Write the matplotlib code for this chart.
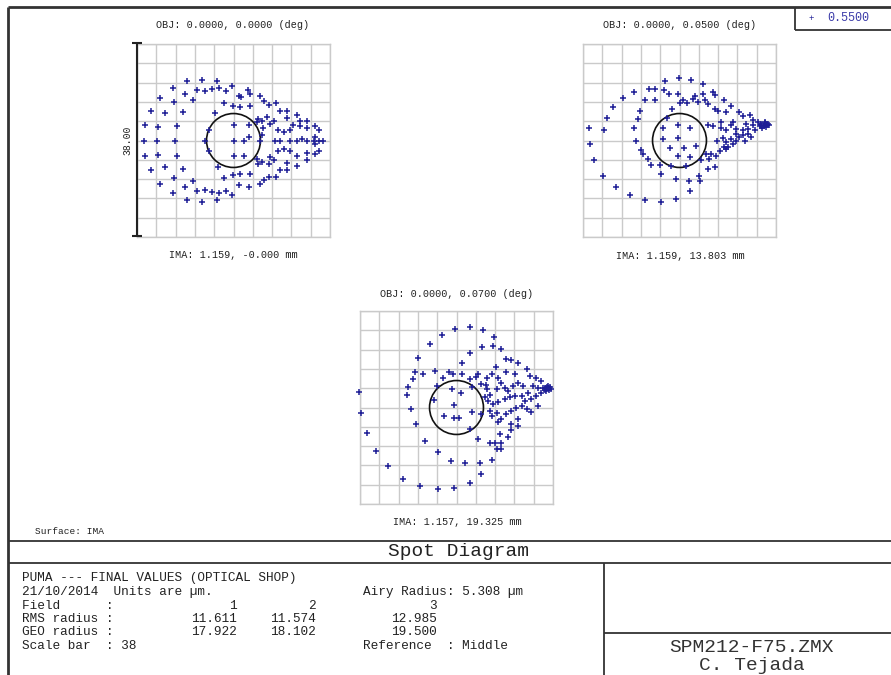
import matplotlib
matplotlib.use("Agg")
import matplotlib.pyplot as plt
from matplotlib.lines import Line2D
from matplotlib.patches import Circle

# ---------------- data (µm, relative to spot centroid) ----------------
SCALE_BAR = 38.0
AIRY_RADIUS = 5.308
WAVELENGTH = "0.5500"

FIELD1_X = [-9.2, -6.2, -3.3, -12.0, -7.2, -5.7, -4.2, -2.8, -1.5, -0.3, 1.0, 1.4, 2.8, 3.3,
            -9.5, -14.5, -11.8, -7.9, -1.8, -0.1, 1.3, 3.3, 5.3, 6.0, 6.9, 8.4,
            -16.3, -13.5, -9.9, -3.6, 4.9, 5.6, 6.6, 7.9, 9.2, 10.5, 10.6, 12.5, 13.1, 14.5,
            -17.4, -14.8, -11.2, -4.9, 0.0, 3.0, 4.6, 5.9, 7.2, 8.7, 9.9, 11.2, 11.8, 13.0, 14.5, 16.1, 16.8,
            -17.7, -15.1, -11.5, -5.6, 0.0, 2.0, 3.0, 5.3, 5.6, 8.2, 9.2, 11.2, 12.5, 13.5, 14.5, 15.8, 16.8, 17.7, 16.1, 16.1,
            -17.4, -14.8, -11.2, -4.9, 0.0, 2.0, 4.6, 5.6, 7.2, 8.7, 9.9, 11.2, 12.5, 14.5, 16.1, 16.8,
            -16.3, -13.5, -9.9, -3.0, 4.9, 6.9, 7.9, 9.2, 10.5, 10.6, 12.5, 14.5,
            -14.5, -11.8, -7.9, -1.8, -0.1, 1.3, 3.3, 3.0, 5.3, 6.0, 6.9, 8.4,
            -12.0, -9.5, -7.2, -5.7, -4.2, -2.8, -1.5, -0.3, 1.0,
            -9.2, -6.2, -3.3]
FIELD1_Y = [11.7, 12.0, 11.8, 10.3, 9.9, 9.7, 10.1, 10.4, 9.7, 10.8, 8.7, 8.5, 9.9, 9.2,
            9.1, 8.4, 7.5, 7.9, 7.4, 6.8, 6.6, 6.7, 8.7, 7.7, 6.9, 7.4,
            5.9, 5.4, 5.7, 5.4, 4.3, 3.9, 4.7, 3.9, 5.8, 5.8, 4.5, 5.1, 3.9, 3.9,
            3.0, 2.6, 2.9, 2.0, 3.0, 3.0, 3.6, 2.5, 3.3, 2.0, 1.6, 2.0, 3.0, 2.8, 2.5, 2.8, 2.0,
            0.0, 0.0, 0.0, 0.0, 0.0, 0.0, 0.7, 0.0, 1.0, 0.0, 0.0, 0.0, 0.0, 0.3, 0.0, 0.0, 0.0, 0.0, 0.7, -0.7,
            -3.0, -2.8, -3.0, -2.0, -3.0, -3.0, -3.6, -4.3, -3.2, -2.0, -1.6, -2.0, -3.0, -2.5, -2.6, -2.0,
            -5.9, -5.3, -5.6, -5.3, -4.6, -4.7, -3.9, -5.8, -5.9, -4.5, -5.1, -3.9,
            -8.5, -7.4, -7.9, -7.4, -6.8, -6.6, -6.6, -9.2, -8.5, -7.7, -7.2, -7.2,
            -10.4, -9.1, -9.9, -9.7, -10.2, -10.4, -9.9, -10.8, -8.7,
            -11.7, -12.2, -11.8]

FIELD2_X = [-0.1, -2.8, 2.3, 4.7, -8.9, -6.1, -4.9, -3.0, -2.1, -0.2, 0.7, 1.4, 2.6, 3.0, 4.7, 6.6, 6.9, 8.7,
            -11.2, -6.8, -4.9, 0.0, -13.1, -7.7, -1.4, 3.6, 5.1, 5.6, 6.9, 7.6, 9.2, 10.2, 11.8, 12.5, 13.8, 14.5,
            -14.3, -8.2, -8.9, -2.5, -17.9, -14.8, -3.3, -0.3, 2.0, 5.6, 6.6, 8.2, 8.2, 10.5, 11.2, 12.5, 13.1,
            14.5, 15.4, 16.1, 16.6, 17.1, 17.7, 16.8, 15.8, 14.8, 13.5, 14.1, 12.5, 11.8,
            -17.7, -8.5, -3.2, -0.2, 7.4, 8.5, 11.2, 10.5,
            -1.8, 0.8, 3.3, -0.3, 2.0, 8.7, 9.1, 9.5, 5.3, 6.2, 7.2, 5.9, 5.6, 6.9,
            -16.8, -7.6, -7.2, -6.2, -5.6, -3.9, -3.6, -1.6, 1.3, 4.3, 3.9, 4.1, -0.7, 1.8, 2.0,
            -15.0, -12.5, -9.7, -6.7, -3.7, -0.7,
            7.9, 9.2, 10.2, 11.2, 12.8, 13.5, 9.2, 10.2,
            16.3, 17.0, 16.9, 17.3, 16.0, 17.5]
FIELD2_Y = [12.4, 11.7, 12.0, 11.2, 9.5, 10.2, 10.2, 9.9, 9.1, 9.1, 7.9, 7.4, 8.2, 8.7, 9.1, 9.5, 8.9, 8.0,
            8.4, 8.0, 8.0, 7.4, 6.6, 5.8, 6.2, 7.6, 7.9, 7.2, 6.2, 5.9, 5.6, 6.7, 5.6, 4.9, 5.1, 4.1,
            4.4, 4.3, 2.5, 4.5, 2.5, 2.1, 2.5, 3.0, 2.5, 3.0, 2.8, 3.6, 2.5, 3.6, 2.3, 2.0, 3.3,
            3.0, 3.6, 3.3, 2.8, 3.2, 3.0, 3.6, 2.8, 2.0, 1.3, 0.7, 1.0, 0.7,
            -0.7, 0.0, 0.3, 0.5, 0.0, 0.5, 0.0, -0.7,
            -1.4, -1.4, -1.0, -3.0, -3.3, -1.3, -1.6, -1.2, -2.6, -2.6, -3.0, -3.6, -5.6, -5.3,
            -3.9, -1.8, -2.6, -3.6, -4.9, -4.9, -6.6, -5.1, -5.1, -3.8, -6.9, -7.9, -7.6, -7.9, -10.0,
            -6.9, -9.2, -10.8, -11.8, -12.2, -11.5,
            -2.0, -0.3, 0.3, 1.3, 0.0, 2.3, 2.0, 3.0,
            2.5, 2.6, 3.4, 3.0, 3.0, 3.3]

FIELD3_X = [-0.3, 2.6, 5.2, -2.8, 7.4, -5.2, 5.0, 7.2, 8.8, -7.5, 2.6, 9.8, 10.8, 12.1, 7.7, 1.0,
            -8.2, -8.5, -6.6, -4.3, -1.5, -0.7, 1.0, 2.6, 3.9, 4.3, 6.1, 6.9, 8.2, 9.8, 11.5, 13.8, 14.4, 15.7, 16.7,
            -9.5, -9.8, -3.9, -2.6, -0.9, 0.9, 3.1, 4.9, 5.9, 6.1, 6.6, 7.9, 8.8, 9.5, 10.2, 11.1, 12.1, 13.1,
            14.1, 15.1, 16.0, 17.4, 18.0, 18.7, 17.7, 16.7, 15.7, 14.7, 13.4, 12.8, 11.5, 10.5, 9.5, 8.2, 7.2, 6.2, 5.6,
            -19.2, -18.8, -9.0, -4.5, -0.5, 3.1, 4.8,
            -2.4, -0.5, 0.5, 2.6, 6.6, 6.9, 7.9, 8.8, 9.8, 10.8, 11.8, 12.8, 13.8, 14.7, 16.0,
            -8.0, -6.2, -17.6, -15.9, -13.4, -10.5, -7.2, -3.7, -0.5, 2.6,
            -3.7, -1.0, 1.6, 4.6, 4.9, 6.9, 7.9, 8.8, 7.5, 8.8, 10.2, 10.8, 12.1, 12.1, 10.7, 8.5, 6.6, 4.3, 8.2,
            17.0, 18.2, 17.8, 18.4, 17.4]
FIELD3_Y = [15.5, 15.9, 15.2, 14.3, 13.8, 12.6, 12.0, 12.2, 11.6, 9.8, 10.7, 9.5, 9.4, 8.7, 7.9, 8.8,
            6.9, 5.7, 6.6, 7.2, 7.0, 6.6, 6.6, 5.7, 6.1, 6.6, 5.9, 6.6, 5.9, 6.9, 6.6, 7.5, 6.2, 5.9, 5.2,
            4.1, 2.4, 4.3, 5.8, 3.6, 2.8, 4.1, 4.6, 4.4, 3.6, 2.4, 3.6, 4.8, 3.9, 3.3, 4.3, 4.9, 4.3,
            2.9, 4.3, 3.9, 3.9, 4.3, 3.7, 3.3, 2.9, 2.3, 1.6, 1.3, 2.3, 2.3, 2.0, 1.6, 1.0, 0.7, 1.3, 2.0,
            3.1, -1.0, -0.2, 1.5, 0.5, -0.9, -1.3,
            -1.6, -2.0, -2.0, -4.3, -0.7, -1.6, -1.0, -2.2, -1.3, -0.7, 0.0, 0.3, -0.3, -0.9, 0.3,
            -3.3, -6.6, -5.0, -8.6, -11.6, -14.0, -15.5, -16.0, -15.9, -14.9,
            -8.8, -10.5, -10.9, -10.9, -13.1, -10.3, -8.2, -8.2, -6.9, -6.9, -5.9, -4.4, -3.6, -2.3, -3.3, -5.2, -6.9, -6.2, -2.9,
            3.8, 3.5, 4.1, 4.0, 3.5]

OBJ_LABELS = ["OBJ: 0.0000, 0.0000 (deg)", "OBJ: 0.0000, 0.0500 (deg)", "OBJ: 0.0000, 0.0700 (deg)"]
IMA_LABELS = ["IMA: 1.159, -0.000 mm", "IMA: 1.159, 13.803 mm", "IMA: 1.157, 19.325 mm"]

FIELDS = ["1", "2", "3"]
RMS_RADIUS = ["11.611", "11.574", "12.985"]
GEO_RADIUS = ["17.922", "18.102", "19.500"]

# ---------------- figure ----------------
W, H = 891, 675
fig = plt.figure(figsize=(W / 100, H / 100), dpi=100)
fig.patch.set_facecolor("white")

MONO = ["Liberation Mono", "DejaVu Sans Mono"]
MARK = "#1e1e96"
GRID = "#cacaca"
TXT = "#222222"


def fx(x):
    return x / W


def fy(y):
    return 1 - y / H


def hline(x0, x1, y, lw=1.3, color="#333333"):
    fig.add_artist(Line2D([fx(x0), fx(x1)], [fy(y), fy(y)], transform=fig.transFigure,
                          color=color, lw=lw, solid_capstyle="butt"))


def vline(x, y0, y1, lw=1.3, color="#333333"):
    fig.add_artist(Line2D([fx(x), fx(x)], [fy(y0), fy(y1)], transform=fig.transFigure,
                          color=color, lw=lw, solid_capstyle="butt"))


def ftext(x, y, s, size=7.3, ha="left", va="center", color=TXT, **kw):
    return fig.text(fx(x), fy(y), s, fontsize=size, ha=ha, va=va, family=MONO,
                    color=color, **kw)


SIZE = 193
half = SCALE_BAR / 2
ticks = [-half + SCALE_BAR / 10 * k for k in range(11)]


def spot_axes(left, top, xs, ys):
    ax = fig.add_axes([fx(left), fy(top + SIZE), SIZE / W, SIZE / H])
    ax.set_xlim(-half, half)
    ax.set_ylim(-half, half)
    ax.set_xticks(ticks)
    ax.set_yticks(ticks)
    ax.tick_params(length=0, labelbottom=False, labelleft=False)
    ax.grid(True, color=GRID, lw=1.0)
    ax.set_axisbelow(True)
    for sp in ax.spines.values():
        sp.set_color(GRID)
        sp.set_linewidth(1.0)
    ax.add_patch(Circle((0, 0), AIRY_RADIUS, fill=False, ec="#111111", lw=1.2, zorder=3))
    ax.plot(xs, ys, "+", color=MARK, ms=4.6, mew=1.1, clip_on=False, zorder=4)
    return ax


# plot 1
spot_axes(137, 44, FIELD1_X, FIELD1_Y)
ftext(233, 25, OBJ_LABELS[0], ha="center")
ftext(233, 255, IMA_LABELS[0], ha="center")
# scale bar
vline(137, 43, 236, lw=1.5, color="#222222")
hline(132, 142, 43, lw=1.5, color="#222222")
hline(132, 142, 236, lw=1.5, color="#222222")
ftext(127, 140, f"{SCALE_BAR:.2f}", size=7, ha="center", rotation=90)

# plot 2
spot_axes(583, 44, FIELD2_X, FIELD2_Y)
ftext(680, 25, OBJ_LABELS[1], ha="center")
ftext(680, 256, IMA_LABELS[1], ha="center")

# plot 3
spot_axes(360, 311, FIELD3_X, FIELD3_Y)
ftext(457, 294, OBJ_LABELS[2], ha="center")
ftext(457, 522, IMA_LABELS[2], ha="center")

# legend box
hline(795, 891, 30, lw=1.3)
vline(795, 7, 30, lw=1.3)
fig.text(fx(811), fy(18), "+", fontsize=6.5, color=MARK, ha="center", va="center", family=MONO)
ftext(827, 18, WAVELENGTH, size=8.5, color="#3a3aa8")

# frame
hline(8, 891, 7, lw=2.0)
vline(8, 7, 675, lw=2.0)
hline(8, 891, 541, lw=1.3)
hline(8, 891, 563, lw=1.3)
vline(604, 563, 675, lw=1.3)
hline(604, 891, 633, lw=1.3)

ftext(35, 532, "Surface: IMA", size=6.8)
ftext(459, 552, "Spot Diagram", size=14)
fig.texts[-1].set_ha("center")

# info block
fs = 9.2
ftext(22, 578, "PUMA --- FINAL VALUES (OPTICAL SHOP)", size=fs)
ftext(22, 592, "21/10/2014  Units are \u00b5m.", size=fs)
ftext(363, 592, f"Airy Radius: {AIRY_RADIUS:.3f} \u00b5m", size=fs)
ftext(22, 606, "Field      :", size=fs)
ftext(22, 619, "RMS radius :", size=fs)
ftext(22, 632, "GEO radius :", size=fs)
ftext(22, 646, f"Scale bar  : {SCALE_BAR:.0f}", size=fs)
ftext(363, 646, "Reference  : Middle", size=fs)
col_right = [237, 316, 437]
for i in range(3):
    ftext(col_right[i], 606, FIELDS[i], size=fs, ha="right")
    ftext(col_right[i], 619, RMS_RADIUS[i], size=fs, ha="right")
    ftext(col_right[i], 632, GEO_RADIUS[i], size=fs, ha="right")

ftext(752, 647, "SPM212-F75.ZMX", size=14, ha="center", color="#333333")
ftext(752, 666, "C. Tejada", size=14, ha="center", color="#333333")

fig.savefig("out.png", dpi=100, facecolor="white")
